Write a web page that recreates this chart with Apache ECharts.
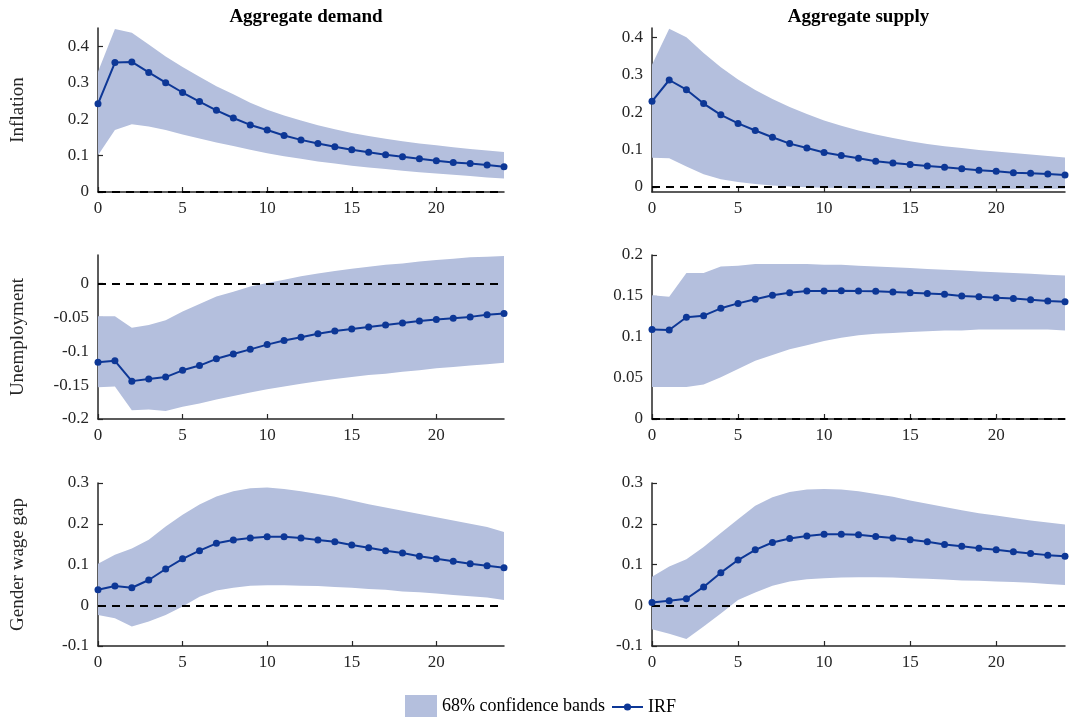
<!DOCTYPE html>
<html>
<head>
<meta charset="utf-8">
<script src="https://cdn.jsdelivr.net/npm/echarts@6/dist/echarts.min.js"></script>
<style>
  html, body { margin: 0; padding: 0; background: #fff; }
  #chart { width: 1071px; height: 719px; }
</style>
</head>
<body>
<div id="chart"></div>
<script>
// Impulse responses over a 24-period horizon
const horizons = [0,1,2,3,4,5,6,7,8,9,10,11,12,13,14,15,16,17,18,19,20,21,22,23,24];
const xTicks = [0, 5, 10, 15, 20];
const columnTitles = ['Aggregate demand', 'Aggregate supply'];
const rowNames = ['Inflation', 'Unemployment', 'Gender wage gap'];

// Aggregate demand shock: inflation
const adInflIrf   = [0.242,0.355,0.357,0.328,0.300,0.273,0.248,0.224,0.203,0.184,0.170,0.155,0.143,0.133,0.124,0.116,0.109,0.102,0.097,0.091,0.086,0.081,0.078,0.074,0.069];
const adInflUpper = [0.330,0.447,0.437,0.405,0.372,0.343,0.316,0.290,0.268,0.245,0.226,0.210,0.196,0.183,0.172,0.162,0.154,0.146,0.139,0.133,0.128,0.123,0.118,0.114,0.110];
const adInflLower = [0.101,0.170,0.186,0.180,0.170,0.158,0.147,0.136,0.126,0.116,0.106,0.098,0.091,0.084,0.078,0.072,0.067,0.063,0.058,0.054,0.051,0.047,0.044,0.040,0.037];

// Aggregate supply shock: inflation
const asInflIrf   = [0.229,0.286,0.260,0.223,0.193,0.170,0.151,0.133,0.116,0.104,0.092,0.084,0.077,0.069,0.064,0.060,0.056,0.053,0.049,0.045,0.042,0.038,0.037,0.035,0.032];
const asInflUpper = [0.327,0.423,0.400,0.358,0.320,0.287,0.259,0.235,0.214,0.195,0.178,0.164,0.151,0.140,0.131,0.122,0.115,0.109,0.104,0.099,0.095,0.091,0.087,0.083,0.079];
const asInflLower = [0.078,0.077,0.055,0.034,0.021,0.013,0.008,0.004,0.001,-0.001,-0.002,-0.003,-0.004,-0.004,-0.005,-0.005,-0.005,-0.005,-0.005,-0.005,-0.005,-0.005,-0.005,-0.005,-0.005];

// Aggregate demand shock: unemployment
const adUnempIrf   = [-0.116,-0.114,-0.144,-0.141,-0.138,-0.128,-0.121,-0.111,-0.104,-0.097,-0.090,-0.084,-0.079,-0.074,-0.070,-0.067,-0.064,-0.061,-0.058,-0.055,-0.053,-0.051,-0.049,-0.046,-0.044];
const adUnempUpper = [-0.048,-0.048,-0.065,-0.061,-0.054,-0.041,-0.030,-0.019,-0.012,-0.004,0.001,0.006,0.011,0.015,0.019,0.022,0.025,0.028,0.030,0.033,0.035,0.037,0.039,0.040,0.041];
const adUnempLower = [-0.153,-0.152,-0.187,-0.186,-0.188,-0.182,-0.177,-0.171,-0.166,-0.161,-0.156,-0.152,-0.148,-0.144,-0.141,-0.138,-0.135,-0.133,-0.130,-0.128,-0.125,-0.123,-0.121,-0.119,-0.117];

// Aggregate supply shock: unemployment
const asUnempIrf   = [0.109,0.1085,0.124,0.126,0.135,0.141,0.146,0.151,0.154,0.156,0.156,0.1565,0.156,0.1557,0.155,0.154,0.153,0.152,0.150,0.149,0.148,0.147,0.1455,0.144,0.143];
const asUnempUpper = [0.151,0.149,0.178,0.178,0.186,0.187,0.189,0.189,0.189,0.189,0.188,0.188,0.187,0.186,0.185,0.184,0.183,0.182,0.181,0.180,0.179,0.178,0.177,0.176,0.175];
const asUnempLower = [0.039,0.039,0.039,0.042,0.051,0.061,0.071,0.078,0.085,0.090,0.095,0.099,0.102,0.104,0.105,0.106,0.107,0.108,0.108,0.109,0.109,0.109,0.109,0.109,0.108];

// Aggregate demand shock: gender wage gap
const adGapIrf   = [0.038,0.047,0.043,0.062,0.089,0.114,0.134,0.152,0.160,0.165,0.168,0.168,0.165,0.160,0.156,0.148,0.141,0.134,0.128,0.120,0.114,0.108,0.102,0.097,0.092];
const adGapUpper = [0.102,0.124,0.139,0.161,0.193,0.222,0.247,0.267,0.280,0.287,0.289,0.285,0.280,0.273,0.266,0.257,0.248,0.240,0.232,0.224,0.216,0.208,0.200,0.192,0.180];
const adGapLower = [-0.024,-0.032,-0.052,-0.040,-0.024,-0.003,0.021,0.036,0.043,0.048,0.049,0.049,0.048,0.047,0.045,0.043,0.040,0.038,0.034,0.032,0.029,0.025,0.022,0.019,0.013];

// Aggregate supply shock: gender wage gap
const asGapIrf   = [0.007,0.011,0.016,0.045,0.080,0.111,0.136,0.154,0.164,0.170,0.174,0.174,0.173,0.169,0.165,0.161,0.156,0.149,0.145,0.140,0.136,0.131,0.127,0.123,0.120];
const asGapUpper = [0.070,0.095,0.113,0.143,0.177,0.211,0.244,0.265,0.278,0.284,0.285,0.284,0.280,0.273,0.266,0.257,0.249,0.241,0.233,0.226,0.220,0.214,0.208,0.203,0.198];
const asGapLower = [-0.059,-0.070,-0.083,-0.052,-0.020,0.013,0.031,0.048,0.058,0.064,0.066,0.068,0.069,0.069,0.068,0.066,0.065,0.063,0.061,0.060,0.058,0.057,0.055,0.052,0.050];

// y-axis tick values per panel
const inflTicks  = [0, 0.1, 0.2, 0.3, 0.4];
const unempAdTicks = [-0.2, -0.15, -0.1, -0.05, 0];
const unempAsTicks = [0, 0.05, 0.1, 0.15, 0.2];
const gapTicks   = [-0.1, 0, 0.1, 0.2, 0.3];

const BAND = '#b4bfdd';
const LINE = '#0d3796';
const AXIS = '#262626';
const FONT = '"Liberation Serif", "Times New Roman", serif';

const panels = [
  { row: 0, col: 0, irf: adInflIrf,  lo: adInflLower,  hi: adInflUpper,  min: 0,       max: 0.45,   ticks: inflTicks },
  { row: 0, col: 1, irf: asInflIrf,  lo: asInflLower,  hi: asInflUpper,  min: -0.0134, max: 0.425,  ticks: inflTicks },
  { row: 1, col: 0, irf: adUnempIrf, lo: adUnempLower, hi: adUnempUpper, min: -0.2,    max: 0.0425, ticks: unempAdTicks },
  { row: 1, col: 1, irf: asUnempIrf, lo: asUnempLower, hi: asUnempUpper, min: 0,       max: 0.2,    ticks: unempAsTicks },
  { row: 2, col: 0, irf: adGapIrf,   lo: adGapLower,   hi: adGapUpper,   min: -0.1,    max: 0.3,    ticks: gapTicks },
  { row: 2, col: 1, irf: asGapIrf,   lo: asGapLower,   hi: asGapUpper,   min: -0.1,    max: 0.3,    ticks: gapTicks }
];

const colLeft  = [98, 652];
const colWidth = [406, 413];
const rowTop   = [28, 255, 483];
const rowHeight = [164, 164, 163];

const grids = [], xAxes = [], yAxes = [], series = [];

// Confidence band as one filled polygon: upper edge left to right, lower edge back
function bandRenderer(p) {
  return function (params, api) {
    if (params.dataIndex !== 0) return null;
    const pts = [];
    for (let k = 0; k < horizons.length; k++) pts.push(api.coord([horizons[k], p.hi[k]]));
    for (let k = horizons.length - 1; k >= 0; k--) pts.push(api.coord([horizons[k], p.lo[k]]));
    return { type: 'polygon', shape: { points: pts }, style: { fill: BAND }, silent: true };
  };
}

panels.forEach((p, i) => {
  grids.push({ left: colLeft[p.col], top: rowTop[p.row], width: colWidth[p.col], height: rowHeight[p.row] });

  xAxes.push({
    type: 'value', gridIndex: i, min: 0, max: 24,
    axisLine: { onZero: false, lineStyle: { color: AXIS, width: 1.5 } },
    axisTick: { inside: true, length: 5, customValues: xTicks, lineStyle: { color: AXIS, width: 1.2 } },
    axisLabel: { customValues: xTicks, color: AXIS, fontFamily: FONT, fontSize: 17, margin: 8 },
    splitLine: { show: false }
  });

  yAxes.push({
    type: 'value', gridIndex: i, min: p.min, max: p.max,
    name: p.col === 0 ? rowNames[p.row] : '',
    nameLocation: 'middle', nameGap: 70,
    nameTextStyle: { color: AXIS, fontFamily: FONT, fontSize: 19 },
    axisLine: { onZero: false, lineStyle: { color: AXIS, width: 1.5 } },
    axisTick: { inside: true, length: 5, customValues: p.ticks, lineStyle: { color: AXIS, width: 1.2 } },
    axisLabel: { customValues: p.ticks, color: AXIS, fontFamily: FONT, fontSize: 17, margin: 9 },
    splitLine: { show: false }
  });

  series.push({
    name: '68% confidence bands',
    type: 'custom', xAxisIndex: i, yAxisIndex: i,
    data: horizons.map((h, k) => [h, p.lo[k], p.hi[k]]),
    encode: { x: 0, y: [1, 2] },
    renderItem: bandRenderer(p),
    itemStyle: { color: BAND },
    silent: true, z: 1
  });

  // impulse response with zero reference line
  series.push({
    name: 'IRF',
    type: 'line', xAxisIndex: i, yAxisIndex: i,
    data: horizons.map((h, k) => [h, p.irf[k]]),
    symbol: 'circle', symbolSize: 7,
    lineStyle: { color: LINE, width: 2 },
    itemStyle: { color: LINE },
    z: 5,
    markLine: {
      silent: true, symbol: 'none', label: { show: false },
      lineStyle: { color: '#000', type: [8, 6], width: 1.8 },
      data: [{ yAxis: 0 }],
      z: 4
    }
  });
});

const chart = echarts.init(document.getElementById('chart'), null, { renderer: 'canvas' });
chart.setOption({
  animation: false,
  backgroundColor: '#fff',
  title: columnTitles.map((t, c) => ({
    text: t,
    left: colLeft[c] + colWidth[c] / 2 - (c === 1 ? 5 : 0),
    top: 3,
    textAlign: 'center',
    textStyle: { fontFamily: FONT, fontWeight: 'bold', fontSize: 19, color: '#000' }
  })),
  legend: [
    {
      data: [{ name: '68% confidence bands', icon: 'rect', itemStyle: { color: BAND, opacity: 1 } }],
      left: 405, top: 695, itemWidth: 32, itemHeight: 22, padding: 0,
      selectedMode: false,
      textStyle: { fontFamily: FONT, fontSize: 18, color: '#000' }
    },
    {
      data: ['IRF'],
      left: 611, top: 698, itemWidth: 31, itemHeight: 9, padding: 0,
      selectedMode: false,
      textStyle: { fontFamily: FONT, fontSize: 18, color: '#000' }
    }
  ],
  grid: grids,
  xAxis: xAxes,
  yAxis: yAxes,
  series: series
});
</script>
</body>
</html>
